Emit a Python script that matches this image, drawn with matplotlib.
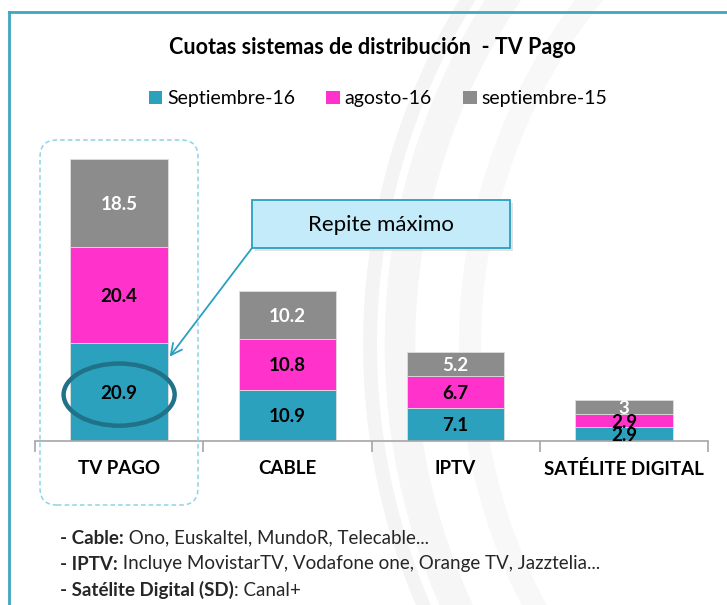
import matplotlib
matplotlib.use('Agg')
import matplotlib.pyplot as plt
from matplotlib.patches import FancyBboxPatch, Ellipse, Patch, Arc
from matplotlib.lines import Line2D

plt.rcParams['font.family'] = ['Lato', 'DejaVu Sans']

categories = ['TV PAGO', 'CABLE', 'IPTV', 'SATÉLITE DIGITAL']
series_names = ['Septiembre-16', 'agosto-16', 'septiembre-15']
sep16 = [20.9, 10.9, 7.1, 2.9]
ago16 = [20.4, 10.8, 6.7, 2.9]
sep15 = [18.5, 10.2, 5.2, 3]
colors = ['#2ca1be', '#ff33cc', '#8c8c8c']
label_colors = ['black', 'black', 'white']

notes = [('- Cable:', ' Ono, Euskaltel, MundoR, Telecable...'),
         ('- IPTV:', ' Incluye MovistarTV, Vodafone one, Orange TV, Jazztelia...'),
         ('- Satélite Digital (SD)', ': Canal+')]

W, H = 727, 605
fig = plt.figure(figsize=(W / 100, H / 100), dpi=100)
fig.patch.set_facecolor('white')


def fx(x):
    return x / W


def fy(y):
    return 1 - y / H


def inch(x, y):
    # pixel from top-left -> inches from bottom-left
    return x / 100, (H - y) / 100


# faint background swirl
for r, lw, c in [(6.3, 22, '#f6f6f6'), (6.6, 10, '#f4f4f4'), (5.6, 16, '#f8f8f8')]:
    fig.add_artist(Arc((10.3, 2.6), 2 * r, 2 * r, theta1=115, theta2=235,
                       transform=fig.dpi_scale_trans, color=c, lw=lw, zorder=0))

# outer frame (left and top edges)
fig.add_artist(Line2D([fx(9), fx(9)], [fy(12), 0], color='#3ea7c2', lw=2))
fig.add_artist(Line2D([fx(9), 1], [fy(12), fy(12)], color='#3ea7c2', lw=2))

ax = fig.add_axes([fx(35), fy(441), (708 - 35) / W, (441 - 135) / H])
ax.patch.set_alpha(0)

x = list(range(len(categories)))
bottom = [0] * len(categories)
for vals, c, lc in zip([sep16, ago16, sep15], colors, label_colors):
    ax.bar(x, vals, bottom=bottom, width=0.58, color=c, edgecolor='#dddddd', linewidth=0.6)
    for xi, b, v in zip(x, bottom, vals):
        ax.text(xi, b + v / 2, f'{v:g}', ha='center', va='center_baseline', color=lc,
                fontsize=13.5, fontweight='bold')
    bottom = [b + v for b, v in zip(bottom, vals)]

ax.set_xlim(-0.5, len(categories) - 0.5)
ax.set_ylim(0, 65)
for s in ['top', 'right', 'left']:
    ax.spines[s].set_visible(False)
ax.spines['bottom'].set_color('#a6a6a6')
ax.spines['bottom'].set_linewidth(1.2)
ax.set_yticks([])
ax.set_xticks(x)
ax.set_xticklabels(categories, fontsize=13.5, fontweight='bold')
ax.tick_params(axis='x', which='major', length=0, pad=14)
ax.set_xticks([i - 0.5 for i in range(len(categories) + 1)], minor=True)
ax.tick_params(axis='x', which='minor', length=8, width=1.2, color='#a6a6a6')

# title and legend
fig.text(fx(372), fy(47), 'Cuotas sistemas de distribución  - TV Pago', ha='center',
         va='center', fontsize=15.5, fontweight='bold')
handles = [Patch(facecolor=c, edgecolor='none') for c in colors]
fig.legend(handles, series_names, loc='center', bbox_to_anchor=(fx(378), fy(99)), ncol=3,
           frameon=False, handlelength=0.7, handleheight=0.7, handletextpad=0.25,
           columnspacing=1.6, fontsize=14)

# dashed highlight around TV PAGO
x0, y0 = inch(40, 505)
fig.add_artist(FancyBboxPatch((x0, y0), 1.58, 3.65, boxstyle='round,pad=0,rounding_size=0.17',
                              transform=fig.dpi_scale_trans, fc='none', ec='#8fd3ea',
                              lw=1.1, ls=(0, (3, 2))))

# ellipse around the maximum
ax.add_patch(Ellipse((0, sep16[0] / 2 - 0.6), 0.66, 13.2, fc='none', ec='#1f7287', lw=3.2, zorder=5))

# callout
bx, by = inch(252, 248)
fig.add_artist(FancyBboxPatch((bx + 0.03, by - 0.03), 2.58, 0.48, boxstyle='square,pad=0',
                              transform=fig.dpi_scale_trans, fc='#d0d0d0', ec='none', alpha=0.6))
fig.add_artist(FancyBboxPatch((bx, by), 2.58, 0.48, boxstyle='square,pad=0',
                              transform=fig.dpi_scale_trans, fc='#c4ebf9', ec='#2b9fc0', lw=1.3))
fig.text(fx(381), fy(225), 'Repite máximo', ha='center', va='center', fontsize=16)
ax.annotate('', xy=(0.30, 17.9), xycoords='data', xytext=(bx, by), textcoords=fig.dpi_scale_trans,
            arrowprops=dict(arrowstyle='->,head_length=0.8,head_width=0.4', color='#2b9fc0',
                            lw=1.3, shrinkA=0, shrinkB=0))

# footnotes
renderer = fig.canvas.get_renderer()
for i, (bold, rest) in enumerate(notes):
    yy = fy(538 + 26 * i)
    t = fig.text(fx(60), yy, bold, ha='left', va='center', fontsize=13.5, fontweight='bold',
                 color='#262626')
    ext = t.get_window_extent(renderer)
    fig.text(ext.x1 / W, yy, rest, ha='left', va='center', fontsize=13.5, color='#262626')

fig.savefig('out.png', dpi=100)
